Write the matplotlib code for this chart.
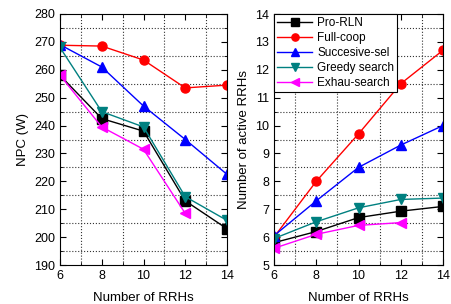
import numpy as np
import matplotlib.pyplot as plt
from matplotlib.ticker import MultipleLocator

plt.rcParams['font.family'] = ['Liberation Sans', 'DejaVu Sans']
plt.rcParams['font.size'] = 9

# Data
rrhs = [6, 8, 10, 12, 14]
rrhs_ex = [6, 8, 10, 12]

npc_pro = [258, 242.5, 238, 213, 203]
npc_full = [268.8, 268.5, 263.5, 253.5, 254.5]
npc_succ = [269, 261, 247, 235, 222.5]
npc_greedy = [268, 245, 239.5, 214.5, 206]
npc_exhau = [258, 239.5, 231.5, 208.5]

act_pro = [5.8, 6.2, 6.7, 6.93, 7.1]
act_full = [6.0, 8.0, 9.7, 11.5, 12.7]
act_succ = [6.05, 7.3, 8.5, 9.3, 10.0]
act_greedy = [5.95, 6.55, 7.05, 7.35, 7.4]
act_exhau = [5.6, 6.1, 6.42, 6.52]

labels = ["Pro-RLN", "Full-coop", "Succesive-sel", "Greedy search", "Exhau-search"]
colors = ["black", "red", "blue", "#008080", "magenta"]
markers = ["s", "o", "^", "v", "<"]

fig = plt.figure(figsize=(4.51, 3.04), dpi=100)
ax1 = fig.add_axes([60/451, 39/304, 167/451, 251/304])
ax2 = fig.add_axes([274/451, 39/304, 169/451, 251/304])

left = [npc_pro, npc_full, npc_succ, npc_greedy, npc_exhau]
right = [act_pro, act_full, act_succ, act_greedy, act_exhau]

for i in range(5):
    xs = rrhs_ex if i == 4 else rrhs
    ax1.plot(xs, left[i], color=colors[i], marker=markers[i], markersize=6.5, lw=1)
    ax2.plot(xs, right[i], color=colors[i], marker=markers[i], markersize=6.5, lw=1, label=labels[i])

def style(ax):
    ax.set_xlim(6, 14)
    ax.xaxis.set_major_locator(MultipleLocator(2))
    ax.xaxis.set_minor_locator(MultipleLocator(1))
    ax.tick_params(which='both', direction='in', top=True, right=True, labelsize=9)
    ax.tick_params(which='major', length=4)
    ax.tick_params(which='minor', length=2)
    ax.grid(which='minor', color='#333333', linestyle=':', lw=0.8)
    ax.set_xlabel("Number of RRHs", fontsize=9.5, labelpad=7)

ax1.set_ylim(190, 280)
ax1.yaxis.set_major_locator(MultipleLocator(10))
ax1.yaxis.set_minor_locator(MultipleLocator(5))
ax1.set_ylabel("NPC (W)", fontsize=9.5)
style(ax1)

ax2.set_ylim(5, 14)
ax2.yaxis.set_major_locator(MultipleLocator(1))
ax2.yaxis.set_minor_locator(MultipleLocator(0.5))
ax2.set_ylabel("Number of active RRHs", fontsize=9.5)
style(ax2)

leg = ax2.legend(loc='upper left', fancybox=False, framealpha=1, edgecolor='black',
                 fontsize=8.5, handlelength=3, borderpad=0.25, labelspacing=0.25,
                 borderaxespad=0.0, handletextpad=0.4, markerscale=0.8)
leg.get_frame().set_linewidth(0.8)

fig.savefig("out.png", dpi=100)
